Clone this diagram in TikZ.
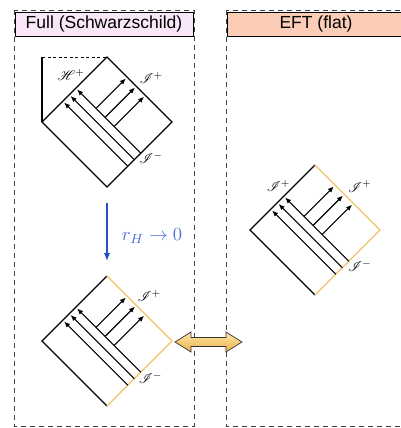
\documentclass[tikz,border=0pt]{standalone}
\usepackage{fontspec}
\usepackage{mathrsfs}
\usetikzlibrary{arrows.meta}
\newfontfamily\arialfont{Liberation Sans}
\definecolor{panelgray}{HTML}{404040}
\definecolor{pinkfill}{HTML}{F9E6F8}
\definecolor{salmonfill}{HTML}{FCCDB6}
\definecolor{scrigold}{HTML}{F2C263}
\definecolor{rblue}{HTML}{2A4FC5}
\definecolor{rlabel}{HTML}{4C6EDD}
\definecolor{arrowtop}{HTML}{FCE7A6}
\definecolor{arrowbot}{HTML}{EDB04A}
\newcommand\pdrays[1]{%
  \foreach \a/\i in {0.32/1,0.42/2,0.52/3}{%
    \coordinate (#1s\i) at (\a,0);
    \coordinate (#1e\i) at (\a,0.98);
    \draw[ray] (#1s\i) -- (#1e\i);}
  \foreach \b/\i in {0.41/1,0.55/2,0.69/3}{%
    \coordinate (#1p\i) at (0.52,\b);
    \coordinate (#1q\i) at (0.98,\b);
    \draw[ray] (#1p\i) -- (#1q\i);}
}
\begin{document}
\begin{tikzpicture}[x=1pt,y=-1pt,
  panel/.style={draw=panelgray, line width=0.8pt, dash pattern=on 5pt off 4pt},
  titlebox/.style={draw=black, line width=0.7pt, minimum width=178pt, minimum height=24pt, inner sep=0pt, font=\arialfont\fontsize{17.5}{20}\selectfont},
  pedge/.style={line width=1.1pt, black},
  scri/.style={line width=1.4pt, scrigold},
  ray/.style={line width=1.1pt, -{Latex[length=6pt,width=5pt]}},
  lab/.style={inner sep=0pt, scale=1.4},
]
\useasboundingbox (0,0) rectangle (401,428);
% panels
\draw[panel] (14,10) rectangle (194,426);
\draw[panel] (226,10) rectangle (410,426);
\node[titlebox, fill=pinkfill] (t1) at (104,24) {Full (Schwarzschild)};
\node[titlebox, fill=salmonfill] (t2) at (316,24) {EFT (flat)};

% top: Schwarzschild
\begin{scope}[shift={(107,187)}, x={(65pt,65pt)}, y={(-65pt,65pt)}]
  \coordinate (Tb) at (0,0);
  \coordinate (Tr) at (1,0);
  \coordinate (Tt) at (1,1);
  \coordinate (Tl) at (0,1);
  \coordinate (Tc) at (0.5,1.5);
  \draw[pedge] (Tl) -- (Tb) -- (Tr) -- (Tt) -- cycle;
  \draw[pedge] (Tl) -- (Tc);
  \draw[pedge, line width=0.9pt, dash pattern=on 3pt off 2.5pt] (Tc) -- (Tt);
  \pdrays{T}
  \node[lab] (TH) at (0.585,1.135) {$\mathscr{H}^+$};
  \node[lab] (TIp) at (1.18,0.5) {$\mathscr{I}^+$};
  \node[lab] (TIm) at (0.56,-0.12) {$\mathscr{I}^-$};
\end{scope}

% blue arrow
\coordinate (bs) at (107,203);
\coordinate (be) at (107,261);
\draw[line width=1.5pt, rblue, -{Latex[length=8pt,width=6.5pt]}] (bs) -- (be);
\node[text=rlabel, scale=1.85, inner sep=0pt] (rl) at (152,236) {$r_H\to 0$};

% bottom-left: flat limit
\begin{scope}[shift={(107,406)}, x={(65pt,65pt)}, y={(-65pt,65pt)}]
  \coordinate (Bb) at (0,0);
  \coordinate (Br) at (1,0);
  \coordinate (Bt) at (1,1);
  \coordinate (Bl) at (0,1);
  \draw[pedge] (Bb) -- (Bl) -- (Bt);
  \draw[scri] (Bb) -- (Br) -- (Bt);
  \pdrays{B}
  \node[lab] (BIp) at (1.17,0.52) {$\mathscr{I}^+$};
  \node[lab] (BIm) at (0.55,-0.12) {$\mathscr{I}^-$};
\end{scope}

% right: EFT flat
\begin{scope}[shift={(315,295)}, x={(65pt,65pt)}, y={(-65pt,65pt)}]
  \coordinate (Rb) at (0,0);
  \coordinate (Rr) at (1,0);
  \coordinate (Rt) at (1,1);
  \coordinate (Rl) at (0,1);
  \draw[pedge] (Rb) -- (Rl) -- (Rt);
  \draw[scri] (Rb) -- (Rr) -- (Rt);
  \pdrays{R}
  \node[lab] (RIl) at (0.56,1.12) {$\mathscr{I}^+$};
  \node[lab] (RIp) at (1.18,0.49) {$\mathscr{I}^+$};
  \node[lab] (RIm) at (0.57,-0.12) {$\mathscr{I}^-$};
\end{scope}

% double arrow
\shadedraw[top color=arrowtop, bottom color=arrowbot, draw=black!80, line width=0.7pt]
  (175,342) -- (191,332) -- (191,337.5) -- (226,337.5) -- (226,332) -- (242,342)
  -- (226,352) -- (226,346.5) -- (191,346.5) -- (191,352) -- cycle;
\end{tikzpicture}
\end{document}
